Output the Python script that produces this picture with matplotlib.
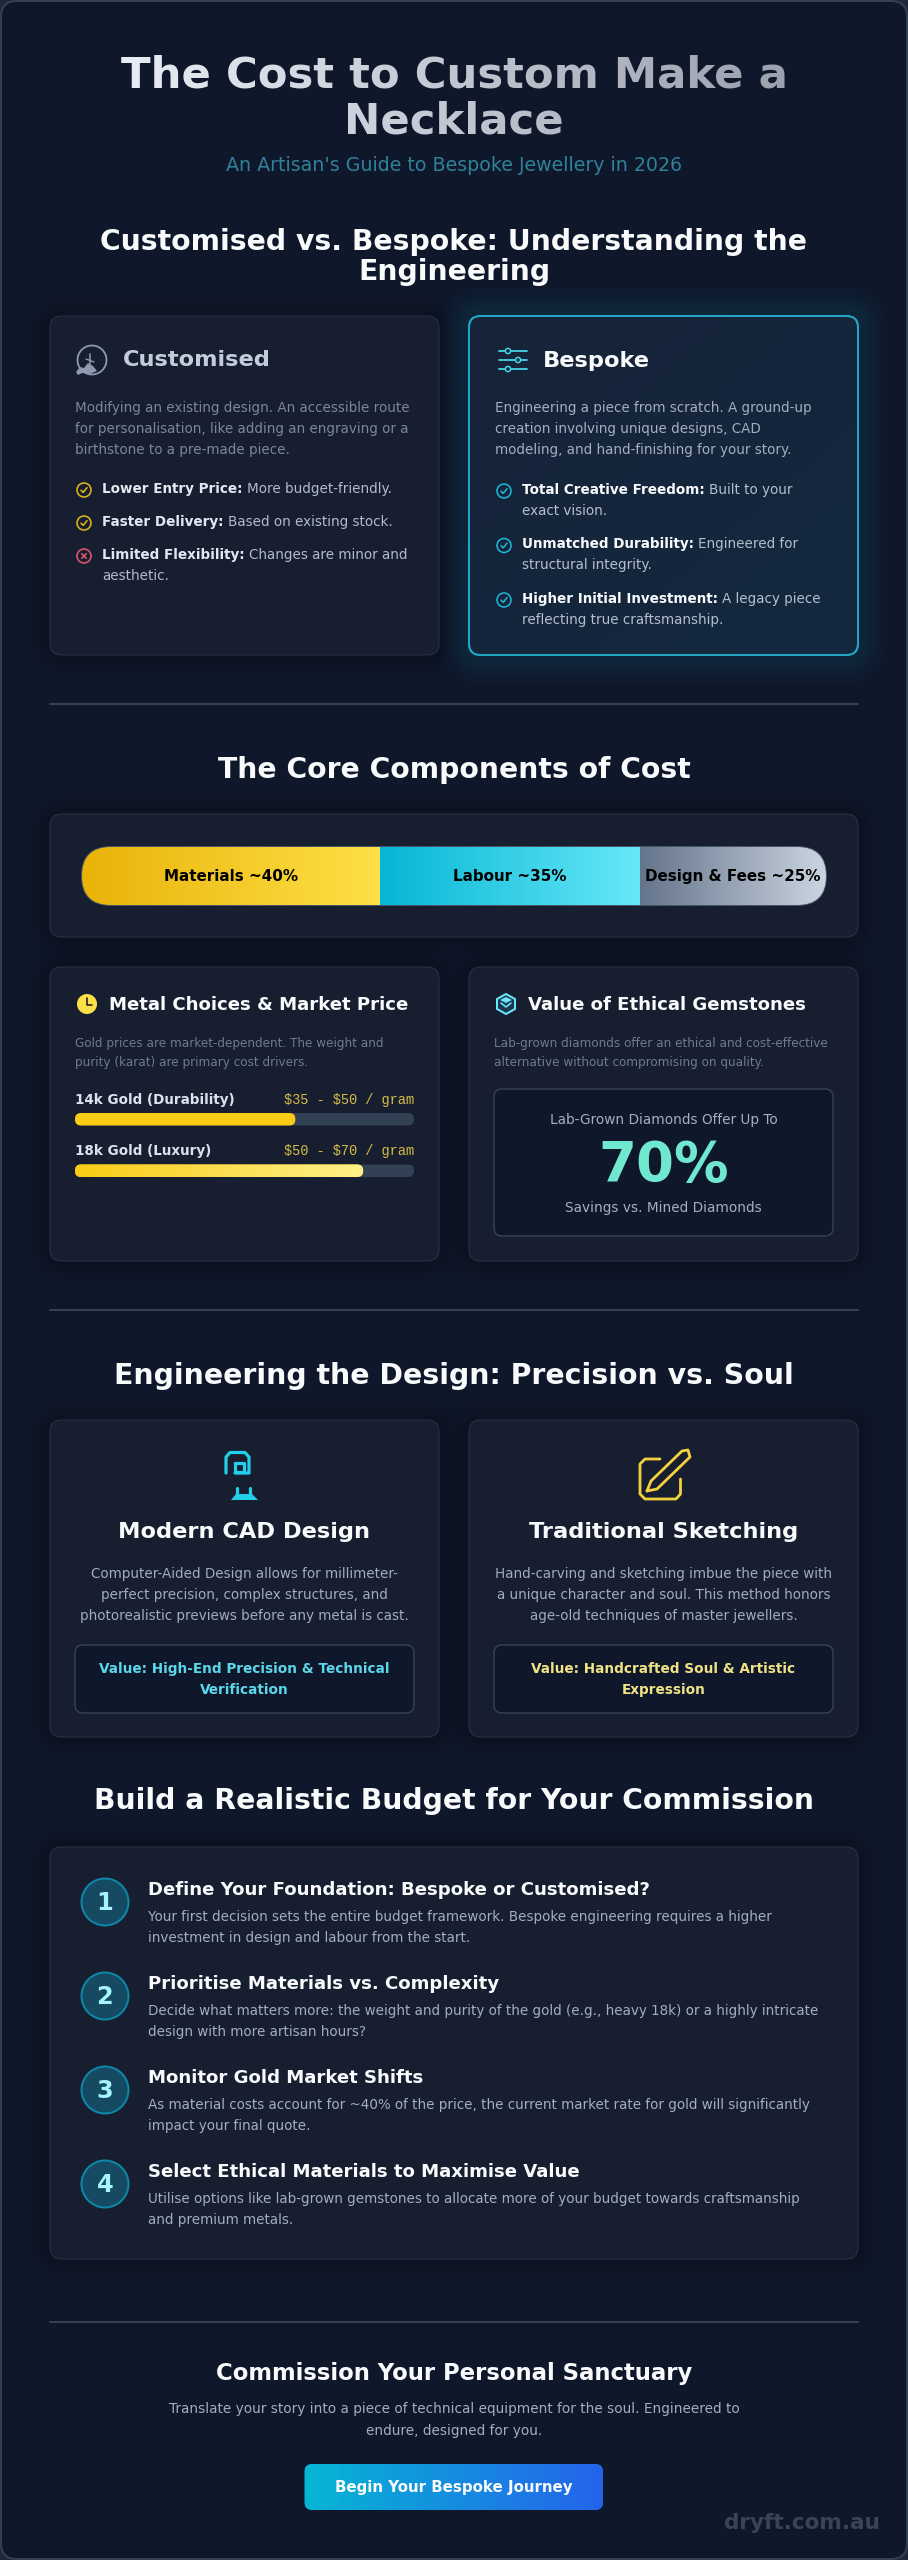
import numpy as np
import matplotlib
matplotlib.use('Agg')
import matplotlib.pyplot as plt
from matplotlib.patches import FancyBboxPatch, Circle, Polygon

# ---- data
cost_labels = ['Materials ~40%', 'Labour ~35%', 'Design & Fees ~25%']
cost_shares = [40, 35, 25]
metal_labels = ['14k Gold (Durability)', '18k Gold (Luxury)']
metal_prices = ['$35 - $50 / gram', '$50 - $70 / gram']
metal_fill = [65, 85]
savings_text = '70%'

custom_desc = ['Modifying an existing design. An accessible route',
               'for personalisation, like adding an engraving or a',
               'birthstone to a pre-made piece.']
custom_items = [('Lower Entry Price:', ['More budget-friendly.'], 'ok'),
                ('Faster Delivery:', ['Based on existing stock.'], 'ok'),
                ('Limited Flexibility:', ['Changes are minor and', 'aesthetic.'], 'no')]
bespoke_desc = ['Engineering a piece from scratch. A ground-up',
                'creation involving unique designs, CAD',
                'modeling, and hand-finishing for your story.']
bespoke_items = [('Total Creative Freedom:', ['Built to your', 'exact vision.']),
                 ('Unmatched Durability:', ['Engineered for', 'structural integrity.']),
                 ('Higher Initial Investment:', ['A legacy piece', 'reflecting true craftsmanship.'])]
cad_desc = ['Computer-Aided Design allows for millimeter-',
            'perfect precision, complex structures, and',
            'photorealistic previews before any metal is cast.']
cad_value = ['Value: High-End Precision & Technical', 'Verification']
sketch_desc = ['Hand-carving and sketching imbue the piece with',
               'a unique character and soul. This method honors',
               'age-old techniques of master jewellers.']
sketch_value = ['Value: Handcrafted Soul & Artistic', 'Expression']
step_titles = ['Define Your Foundation: Bespoke or Customised?',
               'Prioritise Materials vs. Complexity',
               'Monitor Gold Market Shifts',
               'Select Ethical Materials to Maximise Value']
step_bodies = [['Your first decision sets the entire budget framework. Bespoke engineering requires a higher',
                'investment in design and labour from the start.'],
               ['Decide what matters more: the weight and purity of the gold (e.g., heavy 18k) or a highly intricate',
                'design with more artisan hours?'],
               ['As material costs account for ~40% of the price, the current market rate for gold will significantly',
                'impact your final quote.'],
               ['Utilise options like lab-grown gemstones to allocate more of your budget towards craftsmanship',
                'and premium metals.']]
footer_body = ['Translate your story into a piece of technical equipment for the soul. Engineered to',
               'endure, designed for you.']

BG = '#0f172a'
CARD = '#161e30'
EDGE = '#2a3448'
WHITE = '#f8fafc'

fig = plt.figure(figsize=(9.08, 25.6), dpi=100, facecolor='#1e293b')
ax = fig.add_axes([0, 0, 1, 1])
ax.axis('off')
ax.set_xlim(0, 908)
ax.set_ylim(2560, 0)
ax.autoscale(False)
renderer = fig.canvas.get_renderer()


def put(x, y, s, size, color, weight='normal', ha='left', family=None, z=10):
    # va center sits a little high for mixed-case text, nudge it down
    return ax.text(x, y + size * 0.05, s, fontsize=size * 0.72, color=color, fontweight=weight, ha=ha, va='center',
                   family=family or 'DejaVu Sans', zorder=z, parse_math=False)


def box(x, y, w, h, r, fc, ec='none', lw=1, z=3):
    p = FancyBboxPatch((x + r, y + r), w - 2 * r, h - 2 * r, boxstyle=f'round,pad={r},rounding_size={r}',
                       fc=fc, ec=ec, lw=lw * 0.72, zorder=z)
    ax.add_patch(p)
    return p


def hex_rgb(c):
    return np.array(matplotlib.colors.to_rgb(c))


def grad(x0, x1, y0, y1, c0, c1, clip, z=4):
    t = np.linspace(0, 1, 256)[None, :, None]
    img = hex_rgb(c0) * (1 - t) + hex_rgb(c1) * t
    im = ax.imshow(img, extent=[x0, x1, y1, y0], aspect='auto', zorder=z, interpolation='bilinear')
    im.set_clip_path(clip)
    return im


def shadow(x, y, w, h, r, color, alpha, blur, z=2):
    m = int(blur * 3)
    xs = np.arange(x - m, x + w + m)
    ys = np.arange(y - m, y + h + m)
    gx, gy = np.meshgrid(xs, ys)
    qx = np.abs(gx - (x + w / 2)) - (w / 2 - r)
    qy = np.abs(gy - (y + h / 2)) - (h / 2 - r)
    d = np.hypot(np.maximum(qx, 0), np.maximum(qy, 0)) - r
    a = alpha * np.exp(-(np.maximum(d, 0) / blur) ** 2)
    img = np.zeros(gx.shape + (4,))
    img[..., :3] = hex_rgb(color)
    img[..., 3] = a
    ax.imshow(img, extent=[xs[0], xs[-1], ys[-1], ys[0]], aspect='auto', zorder=z)


def line(xs, ys, color, lw=2, z=6):
    ax.plot(xs, ys, color=color, lw=lw * 0.72, solid_capstyle='round', solid_joinstyle='round', zorder=z)


def ring(x, y, r, color, lw=1.6, fc='none', z=6):
    ax.add_patch(Circle((x, y), r, fc=fc, ec=color, lw=lw * 0.72, zorder=z))


def check(x, y, color):
    ring(x, y, 7, color)
    line([x - 3, x - 0.8, x + 3], [y + 0.2, y + 2.4, y - 2.4], color, 1.6)


def cross(x, y, color):
    ring(x, y, 7, color)
    line([x - 2.3, x + 2.3], [y - 2.3, y + 2.3], color, 1.6)
    line([x - 2.3, x + 2.3], [y + 2.3, y - 2.3], color, 1.6)


def rich(x, y, bold, rest, size, c_bold, c_rest):
    t = put(x, y, bold, size, c_bold, 'bold')
    end = t.get_window_extent(renderer).x1
    put(end + size * 0.33, y, rest, size, c_rest)


def card(x, y, w, h, fc=CARD, ec=EDGE):
    shadow(x, y, w, h, 12, '#000000', 0.22, 14)
    return box(x, y, w, h, 12, fc, ec)


# page frame
box(1, 1, 906, 2558, 16, BG, '#334155', 2, z=1)

# header
put(454, 73, 'The Cost to Custom Make a', 43.4, '#e8edf5', 'bold', 'center')
put(454, 119, 'Necklace', 43.4, '#e8edf5', 'bold', 'center')
fade = np.zeros((1, 256, 4))
fade[..., :3] = hex_rgb(BG)
fade[..., 3] = np.linspace(0, 0.36, 256)
ax.imshow(fade, extent=[119, 790, 140, 40], aspect='auto', zorder=11)
put(454, 165, "An Artisan's Guide to Bespoke Jewellery in 2026", 19, '#2f8199', ha='center')

put(454, 241, 'Customised vs. Bespoke: Understanding the', 28.2, WHITE, 'bold', 'center')
put(454, 271, 'Engineering', 28.2, WHITE, 'bold', 'center')

# customised card
card(50, 316, 389, 339)
ring(92, 360, 14.5, '#8d99ae', 1.8)
ax.add_patch(Polygon([(76, 372), (80, 367), (84, 368), (88, 363), (93, 366), (97, 371), (90, 374), (82, 373), (78, 375)],
                     fc='#8d99ae', ec='none', zorder=6))
line([90, 90], [354, 364], '#8d99ae', 1.6)
line([86, 94], [359, 362], '#8d99ae', 1.4)
put(123, 359, 'Customised', 22.5, '#c3ccda', 'bold')
for i, s in enumerate(custom_desc):
    put(75, 407 + i * 21, s, 13.5, '#7c879b')
yy = 488
for bold, rest, kind in custom_items:
    if kind == 'ok':
        check(84, yy + 2, '#e0b416')
    else:
        cross(84, yy + 2, '#e2566a')
    rich(102, yy, bold, rest[0], 13.5, '#e2e8f0', '#b2bbca')
    for j, s in enumerate(rest[1:]):
        put(102, yy + 21 * (j + 1), s, 13.5, '#b2bbca')
    yy += 33

# bespoke card
shadow(469, 316, 389, 339, 12, '#06b6d4', 0.1, 22)
cb = box(469, 316, 389, 339, 12, '#14263c', '#1fa6c4', 2, z=3)
t = np.linspace(0, 1, 128)
gx, gy = np.meshgrid(t, t)
mix = ((gx + gy) / 2)[..., None]
im = ax.imshow(hex_rgb('#172338') * (1 - mix) + hex_rgb('#13293f') * mix, extent=[470, 857, 654, 317],
               aspect='auto', zorder=3.5)
im.set_clip_path(cb)
box(469, 316, 389, 339, 12, 'none', '#1fa6c4', 2, z=4)
for ly, kx in zip([351, 360, 369], [508, 518, 508]):
    line([499, 527], [ly, ly], '#45d4ea', 1.8)
    ring(kx, ly, 2.6, '#45d4ea', 1.5, '#16283f', z=7)
put(543, 360, 'Bespoke', 22.5, WHITE, 'bold')
for i, s in enumerate(bespoke_desc):
    put(495, 407 + i * 21, s, 13.5, '#a3afc0')
yy = 489
for bold, rest in bespoke_items:
    check(504, yy + 2, '#1cb5d3')
    rich(522, yy, bold, rest[0], 13.5, WHITE, '#b4bfce')
    put(522, yy + 21, rest[1], 13.5, '#b4bfce')
    yy += 54.5

line([50, 858], [704, 704], '#334155', 2, z=2)

# cost bar
put(454, 769, 'The Core Components of Cost', 28.2, WHITE, 'bold', 'center')
card(50, 814, 808, 123)
bar_x, bar_w = 82, 744
pill = box(bar_x, 847, bar_w, 58, 29, '#334155', '#475569', 2, z=4)
cost_colors = [('#eab308', '#fde047'), ('#06b6d4', '#67e8f9'), ('#64748b', '#cbd5e1')]
left = 0
for lab, share, (c0, c1) in zip(cost_labels, cost_shares, cost_colors):
    x0 = bar_x + bar_w * left / 100
    x1 = bar_x + bar_w * (left + share) / 100
    grad(x0, x1, 847, 905, c0, c1, pill, z=5)
    put((x0 + x1) / 2, 876, lab, 15.1, '#000000', 'bold', 'center')
    left += share

# metal card
card(50, 967, 389, 294)
ax.add_patch(Circle((87, 1004), 10, fc='#fde047', ec='none', zorder=6))
line([87, 87, 92], [998, 1005, 1005], '#161e30', 1.6, z=7)
put(109, 1004, 'Metal Choices & Market Price', 18.1, WHITE, 'bold')
put(75, 1043, 'Gold prices are market-dependent. The weight and', 12, '#6f7b8f')
put(75, 1062, 'purity (karat) are primary cost drivers.', 12, '#6f7b8f')
for i, (lab, price, pct) in enumerate(zip(metal_labels, metal_prices, metal_fill)):
    dy = 51.5 * i
    put(75, 1099 + dy, lab, 13.5, '#dbe2ec', 'bold')
    put(414, 1099 + dy, price, 13.6, '#d6bd45', ha='right', family='Liberation Mono')
    box(75, 1113 + dy, 339, 12.5, 6, '#334155', z=4)
    fill_end = 75 + 339 * pct / 100
    clip = box(75, 1113 + dy, fill_end - 75, 12.5, 6, '#facc15', z=5)
    if i == 1:
        grad(75, fill_end, 1113 + dy, 1125.5 + dy, '#facc15', '#fef08a', clip, z=6)

# ethical card
card(469, 967, 389, 294)
ax.add_patch(Polygon([(506, 994), (515, 999), (515, 1009), (506, 1014), (497, 1009), (497, 999)],
                     fc='#1c3550', ec='#67e8f9', lw=2 * 0.72, joinstyle='round', zorder=6))
ax.add_patch(Polygon([(506, 997), (512, 1000), (506, 1003), (500, 1000)], fc='#67e8f9', ec='none', zorder=7))
line([501, 506, 511], [1003, 1007, 1003], '#67e8f9', 1.6, z=7)
put(528, 1004, 'Value of Ethical Gemstones', 18.1, WHITE, 'bold')
put(494, 1043, 'Lab-grown diamonds offer an ethical and cost-effective', 12, '#6f7b8f')
put(494, 1062, 'alternative without compromising on quality.', 12, '#6f7b8f')
box(494, 1089, 339, 147, 8, BG, '#334155', 1.5, z=4)
put(663.5, 1119, 'Lab-Grown Diamonds Offer Up To', 13.6, '#a4afc0', ha='center')
put(663.5, 1163, savings_text, 54.5, '#70e8cf', 'bold', 'center')
put(663.5, 1207, 'Savings vs. Mined Diamonds', 13.6, '#a4afc0', ha='center')

line([50, 858], [1310, 1310], '#334155', 2, z=2)

# design section
put(454, 1375, 'Engineering the Design: Precision vs. Soul', 28.4, WHITE, 'bold', 'center')
card(50, 1420, 389, 317)
card(469, 1420, 389, 317)
CY = '#22cfea'
line([226, 226, 230, 245, 249, 249, 235], [1473, 1457, 1452.5, 1452.5, 1457, 1473, 1473], CY, 3.2)
line([235, 244, 244, 235, 235], [1463, 1463, 1472, 1472, 1463], CY, 3.2)
line([237, 237], [1488, 1498], CY, 3.2)
line([250, 250], [1488, 1498], CY, 3.2)
ax.add_patch(Polygon([(231, 1500), (236, 1494), (252, 1494), (258, 1500)], fc=CY, ec='none', zorder=6))
put(244.5, 1531, 'Modern CAD Design', 22.5, WHITE, 'bold', 'center')
for i, s in enumerate(cad_desc):
    put(244.5, 1573 + i * 21.3, s, 13.5, '#a1acbd', ha='center')
box(75, 1645, 339, 68, 8, BG, '#334155', 1.5, z=4)
for i, s in enumerate(cad_value):
    put(244.5, 1668 + i * 21, s, 13.6, '#5cd7ea', 'bold', 'center')

YL = '#f3d13c'
line([660, 645, 640, 640, 645, 676, 680.5, 680.5], [1459, 1459, 1464, 1494, 1499, 1499, 1494, 1479], YL, 2.8)
line([647, 651, 682, 688, 690, 657, 647], [1491, 1481, 1451, 1450, 1457, 1489, 1491], YL, 2.8)
put(663.5, 1531, 'Traditional Sketching', 22.5, WHITE, 'bold', 'center')
for i, s in enumerate(sketch_desc):
    put(663.5, 1573 + i * 21.3, s, 13.5, '#a1acbd', ha='center')
box(494, 1645, 339, 68, 8, BG, '#334155', 1.5, z=4)
for i, s in enumerate(sketch_value):
    put(663.5, 1668 + i * 21, s, 13.6, '#efe385', 'bold', 'center')

# budget steps
put(454, 1800, 'Build a Realistic Budget for Your Commission', 28.3, WHITE, 'bold', 'center')
card(50, 1847, 808, 412)
for i, (title, body) in enumerate(zip(step_titles, step_bodies)):
    dy = 94 * i
    ring(105, 1902 + dy, 23.5, '#0f86a8', 2, '#164a62')
    put(105, 1902 + dy, str(i + 1), 24, '#a5f3fc', 'bold', 'center')
    put(148, 1889 + dy, title, 18.1, WHITE, 'bold')
    put(148, 1916 + dy, body[0], 13.5, '#a3aebd')
    put(148, 1937 + dy, body[1], 13.5, '#a3aebd')

line([50, 858], [2322, 2322], '#334155', 2, z=2)

# footer
put(454, 2372, 'Commission Your Personal Sanctuary', 22.7, WHITE, 'bold', 'center')
put(454, 2408, footer_body[0], 13.6, '#a3aebd', ha='center')
put(454, 2430, footer_body[1], 13.6, '#a3aebd', ha='center')
btn = box(304.5, 2464, 298.5, 46, 8, '#06b6d4', z=4)
grad(304.5, 603, 2464, 2510, '#06b6d4', '#2563eb', btn, z=5)
put(454, 2487, 'Begin Your Bespoke Journey', 15, WHITE, 'bold', 'center')
put(880, 2522, 'dryft.com.au', 21.5, '#3a4454', 'bold', 'right')

fig.savefig('out.png', dpi=100, facecolor=fig.get_facecolor())
